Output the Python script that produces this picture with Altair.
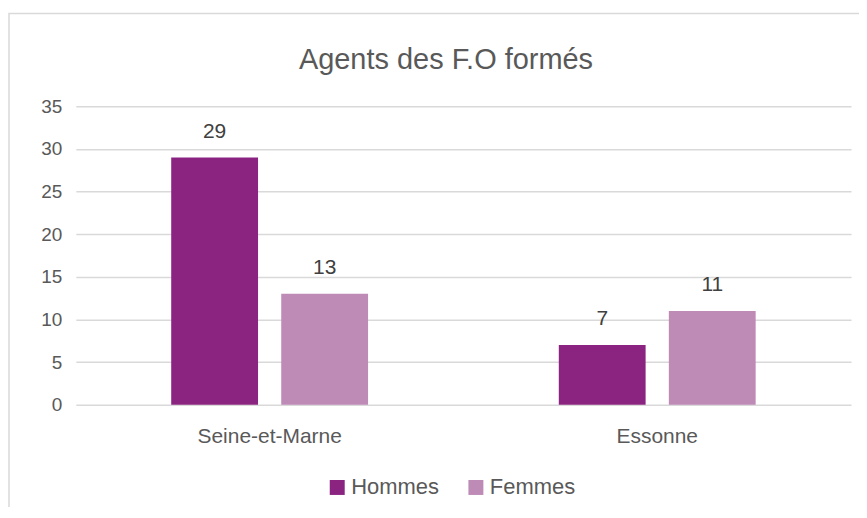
import altair as alt
import pandas as pd

regions = ["Seine-et-Marne", "Essonne"]
series = ["Hommes", "Femmes"]
hommes = [29, 7]
femmes = [13, 11]
colors = ["#8B2481", "#BE8AB6"]
y_ticks = [0, 5, 10, 15, 20, 25, 30, 35]
title_text = "Agents des F.O formés"

rows = []
for i, r in enumerate(regions):
    rows.append({"Region": r, "Sexe": "Hommes", "Valeur": hommes[i]})
    rows.append({"Region": r, "Sexe": "Femmes", "Valeur": femmes[i]})
df = pd.DataFrame(rows)

FONT = "Liberation Sans"
TXT = "#595959"
W, H = 777, 299

x_enc = alt.X("Region:N", sort=regions,
              scale=alt.Scale(paddingInner=0, paddingOuter=0),
              axis=alt.Axis(title=None, labelAngle=0, domain=False, ticks=False,
                            labelPadding=21, labelFontSize=21, labelColor=TXT,
                            labelFont=FONT))
xo_enc = alt.XOffset("Sexe:N", sort=series,
                     scale=alt.Scale(paddingInner=0.211, paddingOuter=0.8667))
y_enc = alt.Y("Valeur:Q", scale=alt.Scale(domain=[0, 35], nice=False),
              axis=alt.Axis(values=y_ticks, title=None, domain=False, ticks=False,
                            gridColor="#d9d9d9", gridWidth=1.5, labelPadding=14,
                            labelFontSize=19, labelColor=TXT, labelFont=FONT))

base = alt.Chart(df)
bars = base.mark_bar().encode(
    x=x_enc, xOffset=xo_enc, y=y_enc,
    color=alt.Color("Sexe:N", sort=series,
                    scale=alt.Scale(domain=series, range=colors),
                    legend=alt.Legend(title=None, orient="none", legendX=251, legendY=371,
                                      direction="horizontal", symbolType="square",
                                      symbolSize=225, symbolStrokeWidth=0,
                                      labelFontSize=22, labelColor=TXT, labelFont=FONT,
                                      labelOffset=3, columnPadding=25)),
)
labels = base.mark_text(dy=-26, fontSize=21, color="#404040", font=FONT).encode(
    x=alt.X("Region:N", sort=regions), xOffset=alt.XOffset("Sexe:N", sort=series),
    y="Valeur:Q", text="Valeur:Q",
)
border = alt.Chart(pd.DataFrame({"a": [0]})).mark_rect(
    fillOpacity=0, stroke="#d9d9d9", strokeWidth=1.5, clip=False
).encode(x=alt.value(-67), x2=alt.value(900), y=alt.value(-93), y2=alt.value(600))

title = alt.Chart(pd.DataFrame({"t": [title_text]})).mark_text(
    fontSize=29, color=TXT, font=FONT, baseline="middle", align="center"
).encode(x=alt.value(371), y=alt.value(-46), text="t:N")

chart = alt.layer(border, bars, labels, title).properties(
    width=W, height=H,
    autosize=alt.AutoSizeParams(type="none"),
    padding={"left": 68, "top": 98, "right": 8, "bottom": 102},
).configure_view(stroke=None)

chart.save("out.html", embed_options={"renderer": "svg", "actions": False})
